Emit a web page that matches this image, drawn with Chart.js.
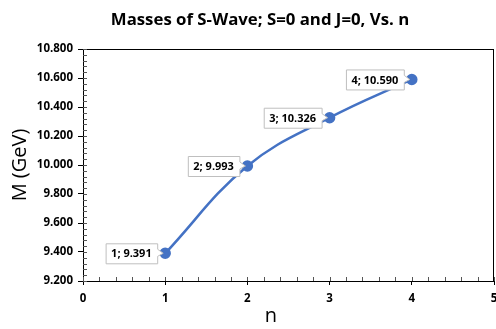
<!DOCTYPE html>
<html>
   <head>
      <title>Masses of S-Wave</title>
      <style>
         body {
         margin: 0;
         background: #ffffff;
         }
         #chart {
         display: block;
         }
      </style>
      <script src="https://cdn.jsdelivr.net/npm/chart.js"></script>
   </head>
   <body>
      <canvas id="chart" width="496" height="329"></canvas>
      <script>
         // chart values
         const nValues = [1, 2, 3, 4];
         const masses = [9.391, 9.993, 10.326, 10.590];
         const xTicks = [0, 1, 2, 3, 4, 5];
         const yTicks = [9.2, 9.4, 9.6, 9.8, 10.0, 10.2, 10.4, 10.6, 10.8];

         const chartTitle = 'Masses of S-Wave; S=0 and J=0, Vs. n';
         const yTitle = 'M (GeV)';
         const xTitle = 'n';

         const blue = '#4472C4';
         const tickFont = { family: 'Open Sans', size: 11.5, weight: 'bold' };
         const noPad = () => ({ left: 0, top: 0, right: 0, bottom: 0 });

         // title, frame, minor ticks, axis titles and callout labels
         const decorPlugin = {
           id: 'decor',
           afterDraw(chart) {
             const ctx = chart.ctx;
             const a = chart.chartArea;
             const xs = chart.scales.x;
             const ys = chart.scales.y;
             ctx.save();
             ctx.strokeStyle = '#000';
             ctx.lineWidth = 1;
             ctx.strokeRect(Math.round(a.left) + 0.5, Math.round(a.top) + 0.5,
               Math.round(a.right - a.left) - 1, Math.round(a.bottom - a.top));

             // minor ticks
             ctx.strokeStyle = '#555';
             ctx.beginPath();
             for (let v = xTicks[0]; v <= xTicks[xTicks.length - 1] + 1e-9; v += 0.2) {
               const px = Math.round(xs.getPixelForValue(v)) + 0.5;
               ctx.moveTo(px, a.bottom);
               ctx.lineTo(px, a.bottom - 4);
             }
             for (let v = yTicks[0]; v <= yTicks[yTicks.length - 1] + 1e-9; v += 0.04) {
               const py = Math.round(ys.getPixelForValue(v)) + 0.5;
               ctx.moveTo(a.left, py);
               ctx.lineTo(a.left + 4, py);
             }
             ctx.stroke();

             // chart title
             ctx.fillStyle = '#000';
             ctx.textAlign = 'center';
             ctx.textBaseline = 'middle';
             ctx.font = 'bold 16.8px "Open Sans"';
             ctx.fillText(chartTitle, 260, 20);

             // axis titles
             ctx.font = '20px "Open Sans"';
             ctx.fillText(xTitle, 271, 316);
             ctx.save();
             ctx.translate(20, 165);
             ctx.rotate(-Math.PI / 2);
             ctx.fillText(yTitle, 0, 0);
             ctx.restore();

             // callout data labels
             const meta = chart.getDatasetMeta(0);
             ctx.font = 'bold 11px "Open Sans"';
             meta.data.forEach((pt, i) => {
               const text = nValues[i] + '; ' + masses[i].toFixed(3);
               const w = ctx.measureText(text).width + 11;
               const h = 20;
               const right = pt.x - 8;
               const left = right - w;
               const top = pt.y - h / 2;
               ctx.beginPath();
               ctx.moveTo(left + 0.5, top + 0.5);
               ctx.lineTo(right + 0.5, top + 0.5);
               ctx.lineTo(right + 0.5, pt.y - 4);
               ctx.lineTo(pt.x - 2, pt.y);
               ctx.lineTo(right + 0.5, pt.y + 3);
               ctx.lineTo(right + 0.5, top + h + 0.5);
               ctx.lineTo(left + 0.5, top + h + 0.5);
               ctx.closePath();
               ctx.fillStyle = '#fff';
               ctx.fill();
               ctx.strokeStyle = '#bfbfbf';
               ctx.stroke();
               ctx.fillStyle = '#000';
               ctx.textAlign = 'center';
               ctx.fillText(text, left + w / 2, pt.y + 1);
             });
             ctx.restore();
           }
         };

         new Chart(document.getElementById('chart'), {
           type: 'scatter',
           data: {
             datasets: [{
               data: nValues.map((n, i) => ({ x: n, y: masses[i] })),
               showLine: true,
               tension: 0.4,
               borderColor: blue,
               backgroundColor: blue,
               borderWidth: 2.5,
               pointRadius: 4.5,
               pointHoverRadius: 4.5,
               clip: false
             }]
           },
           options: {
             responsive: false,
             animation: false,
             layout: { autoPadding: false, padding: { left: 0, right: 2, top: 49, bottom: 0 } },
             scales: {
               x: {
                 type: 'linear',
                 min: 0,
                 max: 5,
                 afterBuildTicks: scale => { scale.ticks = xTicks.map(v => ({ value: v })); },
                 afterFit: scale => { scale.height = 48; scale.getPadding = noPad; },
                 grid: { display: true, drawOnChartArea: false, color: '#000', tickLength: 4 },
                 border: { color: '#000' },
                 ticks: { color: '#000', font: tickFont, padding: 7 }
               },
               y: {
                 min: 9.2,
                 max: 10.8,
                 afterBuildTicks: scale => { scale.ticks = yTicks.map(v => ({ value: v })); },
                 afterFit: scale => { scale.width = 83; scale.getPadding = noPad; },
                 grid: { display: true, drawOnChartArea: false, color: '#000', tickLength: 5 },
                 border: { color: '#000' },
                 ticks: {
                   color: '#000',
                   font: tickFont,
                   padding: 5,
                   callback: v => Number(v).toFixed(3)
                 }
               }
             },
             plugins: {
               legend: { display: false },
               tooltip: { enabled: false },
               title: { display: false }
             }
           },
           plugins: [decorPlugin]
         });
      </script>
   </body>
</html>
